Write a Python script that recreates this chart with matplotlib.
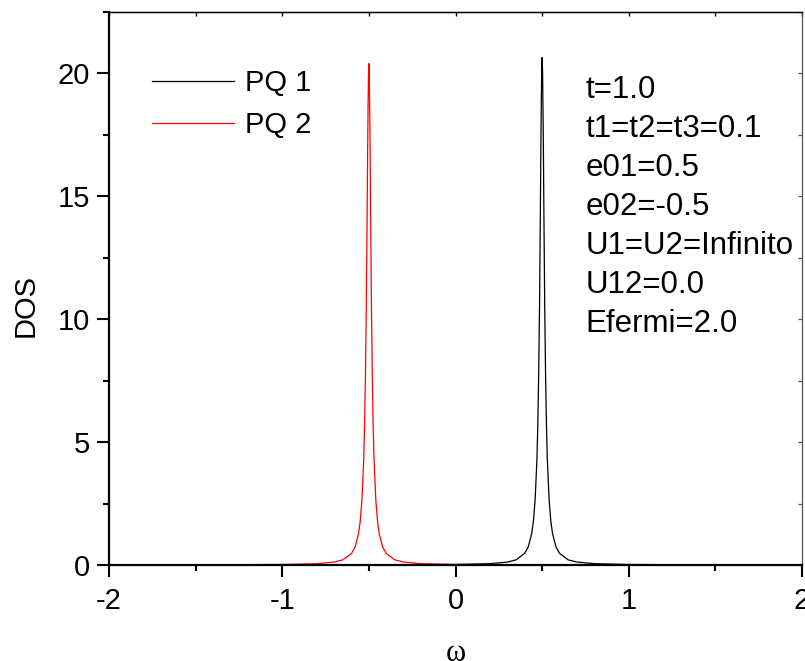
import matplotlib
matplotlib.use("Agg")
import matplotlib.pyplot as plt
from matplotlib.ticker import MultipleLocator

plt.rcParams['font.family'] = ['Liberation Sans', 'DejaVu Sans']
plt.rcParams['axes.unicode_minus'] = False

# values
pq1_omega = [-2.0, -1.0, 0.0, 0.2, 0.3, 0.35, 0.4, 0.42, 0.44, 0.45, 0.46, 0.47, 0.475, 0.48,
             0.485, 0.49, 0.4925, 0.495, 0.4975, 0.5, 0.5025, 0.505, 0.5075, 0.51, 0.515,
             0.52, 0.525, 0.53, 0.54, 0.55, 0.56, 0.58, 0.6, 0.65, 0.7, 0.8, 1.0, 1.5, 2.0]
pq1_dos = [0.0, 0.005, 0.02, 0.055, 0.12, 0.21, 0.48, 0.74, 1.28, 1.8, 2.7, 4.3, 5.7, 7.7,
           10.5, 14.5, 16.8, 18.6, 20.1, 20.65, 20.1, 18.6, 16.8, 14.5, 10.5,
           7.7, 5.7, 4.3, 2.7, 1.8, 1.28, 0.74, 0.48, 0.21, 0.12, 0.055, 0.02, 0.005, 0.0]

pq2_omega = [-2.0, -1.5, -1.0, -0.8, -0.7, -0.65, -0.6, -0.58, -0.56, -0.55, -0.54, -0.53,
             -0.525, -0.52, -0.515, -0.51, -0.5075, -0.505, -0.5025, -0.5, -0.4975, -0.495,
             -0.4925, -0.49, -0.485, -0.48, -0.475, -0.47, -0.46, -0.45, -0.44, -0.42, -0.4,
             -0.35, -0.3, -0.2, 0.0, 1.0, 2.0]
pq2_dos = [0.0, 0.005, 0.02, 0.054, 0.12, 0.21, 0.47, 0.73, 1.26, 1.78, 2.65, 4.25, 5.6,
           7.6, 10.4, 14.3, 16.6, 18.4, 19.9, 20.4, 19.9, 18.4, 16.6, 14.3, 10.4, 7.6, 5.6,
           4.25, 2.65, 1.78, 1.26, 0.73, 0.47, 0.21, 0.12, 0.054, 0.02, 0.005, 0.0]

params = ['t=1.0', 't1=t2=t3=0.1', 'e01=0.5', 'e02=-0.5',
          'U1=U2=Infinito', 'U12=0.0', 'Efermi=2.0']

fig = plt.figure(figsize=(8.05, 6.61), dpi=100)
ax = fig.add_axes([109/805, 1 - 565/661, (802 - 109)/805, (565 - 12)/661])

ax.plot(pq1_omega, pq1_dos, color='black', lw=0.9, label='PQ 1')
ax.plot(pq2_omega, pq2_dos, color='red', lw=0.9, label='PQ 2')

ax.set_xlim(-2, 2)
ax.set_ylim(0, 22.5)
ax.xaxis.set_major_locator(MultipleLocator(1))
ax.xaxis.set_minor_locator(MultipleLocator(0.5))
ax.yaxis.set_major_locator(MultipleLocator(5))
ax.yaxis.set_minor_locator(MultipleLocator(2.5))

ax.tick_params(which='major', direction='out', length=8.5, width=1.5, labelsize=21, pad=5)
ax.tick_params(which='minor', direction='out', length=4.5, width=1.5)
ax.tick_params(axis='x', which='major', pad=7)

for side in ['left', 'bottom']:
    ax.spines[side].set_linewidth(1.6)
ax.spines['top'].set_linewidth(1.0)
ax.spines['right'].set_linewidth(0.9)
ax.spines['right'].set_color('#555555')

# inward ticks on top and right
top = ax.secondary_xaxis('top')
top.xaxis.set_major_locator(MultipleLocator(0.5))
top.tick_params(direction='in', length=3, width=1.0, labeltop=False)
right = ax.secondary_yaxis('right')
right.yaxis.set_major_locator(MultipleLocator(2.5))
right.tick_params(direction='in', length=3, width=0.9, labelright=False, color='#555555')
right.spines['right'].set_visible(False)

ax.set_xlabel('ω', family='Liberation Serif', fontsize=22)
ax.xaxis.set_label_coords(0.5, -0.133)
ax.set_ylabel('DOS', fontsize=21)
ax.yaxis.set_label_coords(-0.10, 0.47)

ax.legend(loc='upper left', bbox_to_anchor=(0.024, 0.944), frameon=False, fontsize=21,
          handlelength=2.8, handletextpad=0.4, labelspacing=0.47)

for i, s in enumerate(params):
    ax.text(0.688, 0.845 - i * 0.0705, s, transform=ax.transAxes, fontsize=22.5,
            va='baseline', ha='left', clip_on=False)

fig.savefig('out.png', dpi=100)
